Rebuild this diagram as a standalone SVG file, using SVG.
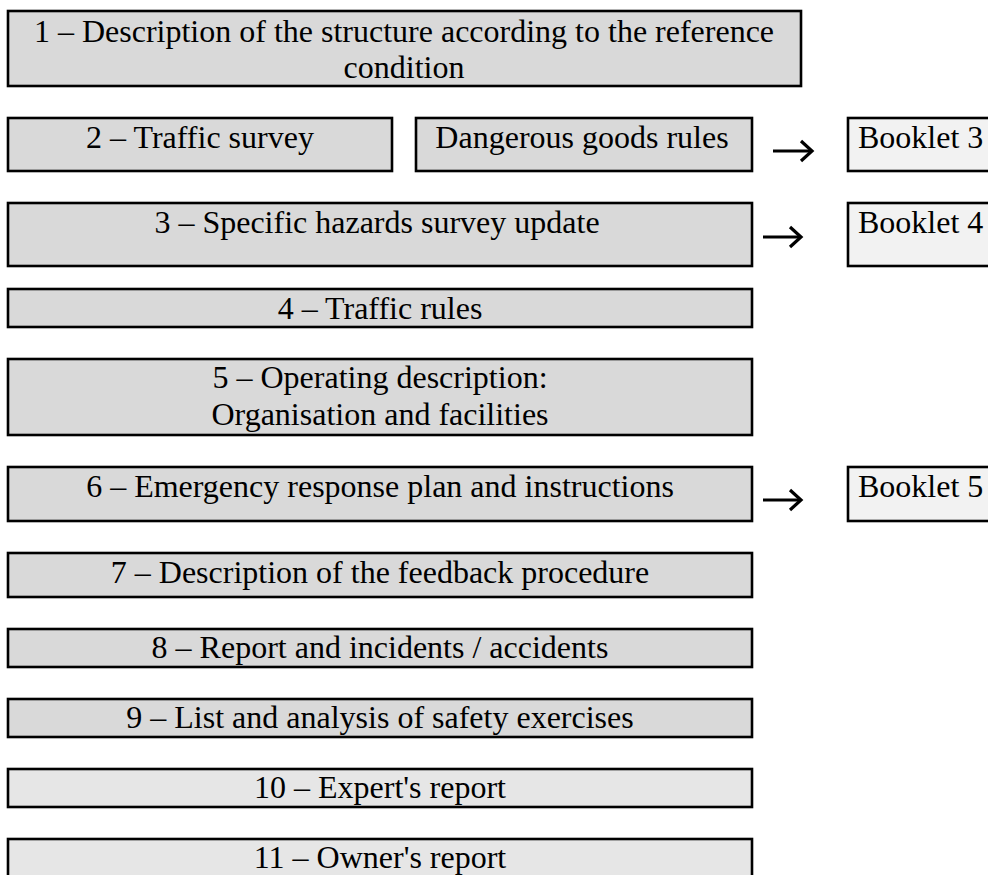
<svg xmlns="http://www.w3.org/2000/svg" width="988" height="875" viewBox="0 0 988 875">
<style>
.box{fill:#d9d9d9;stroke:#000;stroke-width:2.6}
.lt{fill:#e6e6e6;stroke:#000;stroke-width:2.6}
.bk{fill:#f2f2f2;stroke:#000;stroke-width:2.6}
text{font-family:"Liberation Serif","Times New Roman",serif;font-size:32px;fill:#000}
.c{text-anchor:middle}
.arr{fill:none;stroke:#000;stroke-width:2.8}
.head{fill:none;stroke:#000;stroke-width:3.2;stroke-linejoin:miter}
</style>
<rect width="988" height="875" fill="#fff"/>
<g id="n1"><rect class="box" x="8" y="11" width="793" height="75"/><text class="c" x="404" y="42">1 – Description of the structure according to the reference</text><text class="c" x="404" y="78">condition</text></g>
<g id="n2"><rect class="box" x="8" y="118" width="384" height="53"/><text class="c" x="200" y="148">2 – Traffic survey</text></g>
<g id="n2b"><rect class="box" x="416" y="118" width="336" height="53"/><text class="c" x="582" y="148">Dangerous goods rules</text></g>
<g id="b3"><rect class="bk" x="848" y="118" width="150" height="53"/><text x="858" y="148">Booklet 3</text></g>
<g id="n3"><rect class="box" x="8" y="203" width="744" height="63"/><text class="c" x="377" y="233">3 – Specific hazards survey update</text></g>
<g id="b4"><rect class="bk" x="848" y="203" width="150" height="63"/><text x="858" y="233">Booklet 4</text></g>
<g id="n4"><rect class="box" x="8" y="289" width="744" height="38"/><text class="c" x="380" y="319">4 – Traffic rules</text></g>
<g id="n5"><rect class="box" x="8" y="359" width="744" height="76"/><text class="c" x="380" y="388">5 – Operating description:</text><text class="c" x="380" y="425">Organisation and facilities</text></g>
<g id="n6"><rect class="box" x="8" y="467" width="744" height="54"/><text class="c" x="380" y="497">6 – Emergency response plan and instructions</text></g>
<g id="b5"><rect class="bk" x="848" y="467" width="150" height="54"/><text x="858" y="497">Booklet 5</text></g>
<g id="n7"><rect class="box" x="8" y="553" width="744" height="44"/><text class="c" x="380" y="583">7 – Description of the feedback procedure</text></g>
<g id="n8"><rect class="box" x="8" y="629" width="744" height="38"/><text class="c" x="380" y="658">8 – Report and incidents / accidents</text></g>
<g id="n9"><rect class="box" x="8" y="699" width="744" height="38"/><text class="c" x="380" y="728">9 – List and analysis of safety exercises</text></g>
<g id="n10"><rect class="lt" x="8" y="769" width="744" height="38"/><text class="c" x="380" y="798">10 – Expert's report</text></g>
<g id="n11"><rect class="lt" x="8" y="839" width="744" height="45"/><text class="c" x="380" y="868">11 – Owner's report</text></g>
<g id="connectors">
<path class="arr" d="M773 151 H811"/><path class="head" d="M801 141 L812 151 L801 161"/>
<path class="arr" d="M763 237 H800"/><path class="head" d="M790 227 L801 237 L790 247"/>
<path class="arr" d="M763 500 H800"/><path class="head" d="M790 490 L801 500 L790 510"/>
</g>
</svg>
